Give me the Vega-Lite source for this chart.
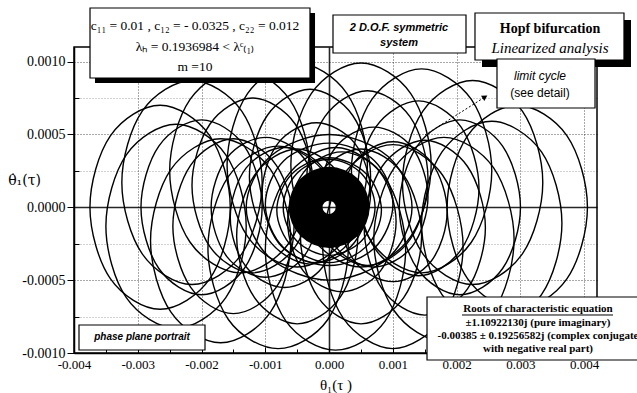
{
"$schema":"https://vega.github.io/schema/vega-lite/v6.json",
"width":523,"height":306,
"autosize":{"type":"none"},
"padding":{"left":74,"top":47,"right":40,"bottom":40},
"background":"white",
"config":{"view":{"stroke":"black","strokeWidth":1.5}},
"datasets":{
"orbits":[
{"g":1,"i":0,"x":-0.00155,"y":0},{"g":1,"i":1,"x":-0.00187,"y":0.00049},{"g":1,"i":2,"x":-0.00265,"y":0.0007},{"g":1,"i":3,"x":-0.00343,"y":0.00049},{"g":1,"i":4,"x":-0.00375,"y":0},{"g":1,"i":5,"x":-0.00343,"y":-0.00049},{"g":1,"i":6,"x":-0.00265,"y":-0.0007},{"g":1,"i":7,"x":-0.00187,"y":-0.00049},
{"g":2,"i":0,"x":-0.00105,"y":0.00017},{"g":2,"i":1,"x":-0.00137,"y":0.00066},{"g":2,"i":2,"x":-0.00215,"y":0.00087},{"g":2,"i":3,"x":-0.00293,"y":0.00066},{"g":2,"i":4,"x":-0.00325,"y":0.00017},{"g":2,"i":5,"x":-0.00293,"y":-0.00032},{"g":2,"i":6,"x":-0.00215,"y":-0.00053},{"g":2,"i":7,"x":-0.00137,"y":-0.00032},
{"g":3,"i":0,"x":-0.0003,"y":0.00025},{"g":3,"i":1,"x":-0.00062,"y":0.00074},{"g":3,"i":2,"x":-0.0014,"y":0.00095},{"g":3,"i":3,"x":-0.00218,"y":0.00074},{"g":3,"i":4,"x":-0.0025,"y":0.00025},{"g":3,"i":5,"x":-0.00218,"y":-0.00024},{"g":3,"i":6,"x":-0.0014,"y":-0.00045},{"g":3,"i":7,"x":-0.00062,"y":-0.00024},
{"g":4,"i":0,"x":0.0006,"y":0.00029},{"g":4,"i":1,"x":0.00028,"y":0.00078},{"g":4,"i":2,"x":-0.0005,"y":0.00099},{"g":4,"i":3,"x":-0.00128,"y":0.00078},{"g":4,"i":4,"x":-0.0016,"y":0.00029},{"g":4,"i":5,"x":-0.00128,"y":-0.0002},{"g":4,"i":6,"x":-0.0005,"y":-0.00041},{"g":4,"i":7,"x":0.00028,"y":-0.0002},
{"g":5,"i":0,"x":0.0016,"y":0.00029},{"g":5,"i":1,"x":0.00128,"y":0.00078},{"g":5,"i":2,"x":0.0005,"y":0.00099},{"g":5,"i":3,"x":-0.00028,"y":0.00078},{"g":5,"i":4,"x":-0.0006,"y":0.00029},{"g":5,"i":5,"x":-0.00028,"y":-0.0002},{"g":5,"i":6,"x":0.0005,"y":-0.00041},{"g":5,"i":7,"x":0.00128,"y":-0.0002},
{"g":6,"i":0,"x":0.00255,"y":0.00025},{"g":6,"i":1,"x":0.00223,"y":0.00074},{"g":6,"i":2,"x":0.00145,"y":0.00095},{"g":6,"i":3,"x":0.00067,"y":0.00074},{"g":6,"i":4,"x":0.00035,"y":0.00025},{"g":6,"i":5,"x":0.00067,"y":-0.00024},{"g":6,"i":6,"x":0.00145,"y":-0.00045},{"g":6,"i":7,"x":0.00223,"y":-0.00024},
{"g":7,"i":0,"x":0.00335,"y":0.00017},{"g":7,"i":1,"x":0.00303,"y":0.00066},{"g":7,"i":2,"x":0.00225,"y":0.00087},{"g":7,"i":3,"x":0.00147,"y":0.00066},{"g":7,"i":4,"x":0.00115,"y":0.00017},{"g":7,"i":5,"x":0.00147,"y":-0.00032},{"g":7,"i":6,"x":0.00225,"y":-0.00053},{"g":7,"i":7,"x":0.00303,"y":-0.00032},
{"g":8,"i":0,"x":0.00405,"y":0},{"g":8,"i":1,"x":0.00373,"y":0.00049},{"g":8,"i":2,"x":0.00295,"y":0.0007},{"g":8,"i":3,"x":0.00217,"y":0.00049},{"g":8,"i":4,"x":0.00185,"y":0},{"g":8,"i":5,"x":0.00217,"y":-0.00049},{"g":8,"i":6,"x":0.00295,"y":-0.0007},{"g":8,"i":7,"x":0.00373,"y":-0.00049},
{"g":9,"i":0,"x":0.00365,"y":-0.00011},{"g":9,"i":1,"x":0.00333,"y":0.00038},{"g":9,"i":2,"x":0.00255,"y":0.00059},{"g":9,"i":3,"x":0.00177,"y":0.00038},{"g":9,"i":4,"x":0.00145,"y":-0.00011},{"g":9,"i":5,"x":0.00177,"y":-0.0006},{"g":9,"i":6,"x":0.00255,"y":-0.00081},{"g":9,"i":7,"x":0.00333,"y":-0.0006},
{"g":10,"i":0,"x":0.0029,"y":-0.00022},{"g":10,"i":1,"x":0.00258,"y":0.00027},{"g":10,"i":2,"x":0.0018,"y":0.00048},{"g":10,"i":3,"x":0.00102,"y":0.00027},{"g":10,"i":4,"x":0.0007,"y":-0.00022},{"g":10,"i":5,"x":0.00102,"y":-0.00071},{"g":10,"i":6,"x":0.0018,"y":-0.00092},{"g":10,"i":7,"x":0.00258,"y":-0.00071},
{"g":11,"i":0,"x":0.0021,"y":-0.00027},{"g":11,"i":1,"x":0.00178,"y":0.00022},{"g":11,"i":2,"x":0.001,"y":0.00043},{"g":11,"i":3,"x":0.00022,"y":0.00022},{"g":11,"i":4,"x":-0.0001,"y":-0.00027},{"g":11,"i":5,"x":0.00022,"y":-0.00076},{"g":11,"i":6,"x":0.001,"y":-0.00097},{"g":11,"i":7,"x":0.00178,"y":-0.00076},
{"g":12,"i":0,"x":0.0012,"y":-0.00029},{"g":12,"i":1,"x":0.00088,"y":0.0002},{"g":12,"i":2,"x":0.0001,"y":0.00041},{"g":12,"i":3,"x":-0.00068,"y":0.0002},{"g":12,"i":4,"x":-0.001,"y":-0.00029},{"g":12,"i":5,"x":-0.00068,"y":-0.00078},{"g":12,"i":6,"x":0.0001,"y":-0.00098},{"g":12,"i":7,"x":0.00088,"y":-0.00078},
{"g":13,"i":0,"x":0.0003,"y":-0.00028},{"g":13,"i":1,"x":-0.00002,"y":0.00021},{"g":13,"i":2,"x":-0.0008,"y":0.00042},{"g":13,"i":3,"x":-0.00158,"y":0.00021},{"g":13,"i":4,"x":-0.0019,"y":-0.00028},{"g":13,"i":5,"x":-0.00158,"y":-0.00077},{"g":13,"i":6,"x":-0.0008,"y":-0.00097},{"g":13,"i":7,"x":-0.00002,"y":-0.00077},
{"g":14,"i":0,"x":-0.0006,"y":-0.00023},{"g":14,"i":1,"x":-0.00092,"y":0.00026},{"g":14,"i":2,"x":-0.0017,"y":0.00047},{"g":14,"i":3,"x":-0.00248,"y":0.00026},{"g":14,"i":4,"x":-0.0028,"y":-0.00023},{"g":14,"i":5,"x":-0.00248,"y":-0.00072},{"g":14,"i":6,"x":-0.0017,"y":-0.00093},{"g":14,"i":7,"x":-0.00092,"y":-0.00072},
{"g":15,"i":0,"x":-0.0013,"y":-0.00013},{"g":15,"i":1,"x":-0.00162,"y":0.00036},{"g":15,"i":2,"x":-0.0024,"y":0.00057},{"g":15,"i":3,"x":-0.00318,"y":0.00036},{"g":15,"i":4,"x":-0.0035,"y":-0.00013},{"g":15,"i":5,"x":-0.00318,"y":-0.00062},{"g":15,"i":6,"x":-0.0024,"y":-0.00083},{"g":15,"i":7,"x":-0.00162,"y":-0.00062},
{"g":16,"i":0,"x":-0.00105,"y":0},{"g":16,"i":1,"x":-0.00133,"y":0.00042},{"g":16,"i":2,"x":-0.002,"y":0.0006},{"g":16,"i":3,"x":-0.00267,"y":0.00042},{"g":16,"i":4,"x":-0.00295,"y":0},{"g":16,"i":5,"x":-0.00267,"y":-0.00042},{"g":16,"i":6,"x":-0.002,"y":-0.0006},{"g":16,"i":7,"x":-0.00133,"y":-0.00042},
{"g":17,"i":0,"x":-0.00025,"y":0.00015},{"g":17,"i":1,"x":-0.00053,"y":0.00057},{"g":17,"i":2,"x":-0.0012,"y":0.00075},{"g":17,"i":3,"x":-0.00187,"y":0.00057},{"g":17,"i":4,"x":-0.00215,"y":0.00015},{"g":17,"i":5,"x":-0.00187,"y":-0.00027},{"g":17,"i":6,"x":-0.0012,"y":-0.00045},{"g":17,"i":7,"x":-0.00053,"y":-0.00027},
{"g":18,"i":0,"x":0.00065,"y":0.00021},{"g":18,"i":1,"x":0.00037,"y":0.00063},{"g":18,"i":2,"x":-0.0003,"y":0.00081},{"g":18,"i":3,"x":-0.00097,"y":0.00063},{"g":18,"i":4,"x":-0.00125,"y":0.00021},{"g":18,"i":5,"x":-0.00097,"y":-0.00021},{"g":18,"i":6,"x":-0.0003,"y":-0.00039},{"g":18,"i":7,"x":0.00037,"y":-0.00021},
{"g":19,"i":0,"x":0.00155,"y":0.0002},{"g":19,"i":1,"x":0.00127,"y":0.00062},{"g":19,"i":2,"x":0.0006,"y":0.0008},{"g":19,"i":3,"x":-0.00007,"y":0.00062},{"g":19,"i":4,"x":-0.00035,"y":0.0002},{"g":19,"i":5,"x":-0.00007,"y":-0.00022},{"g":19,"i":6,"x":0.0006,"y":-0.0004},{"g":19,"i":7,"x":0.00127,"y":-0.00022},
{"g":20,"i":0,"x":0.00235,"y":0.00013},{"g":20,"i":1,"x":0.00207,"y":0.00055},{"g":20,"i":2,"x":0.0014,"y":0.00073},{"g":20,"i":3,"x":0.00073,"y":0.00055},{"g":20,"i":4,"x":0.00045,"y":0.00013},{"g":20,"i":5,"x":0.00073,"y":-0.00029},{"g":20,"i":6,"x":0.0014,"y":-0.00047},{"g":20,"i":7,"x":0.00207,"y":-0.00029},
{"g":21,"i":0,"x":0.003,"y":0},{"g":21,"i":1,"x":0.00272,"y":0.00042},{"g":21,"i":2,"x":0.00205,"y":0.0006},{"g":21,"i":3,"x":0.00138,"y":0.00042},{"g":21,"i":4,"x":0.0011,"y":0},{"g":21,"i":5,"x":0.00138,"y":-0.00042},{"g":21,"i":6,"x":0.00205,"y":-0.0006},{"g":21,"i":7,"x":0.00272,"y":-0.00042},
{"g":22,"i":0,"x":0.00245,"y":-0.00014},{"g":22,"i":1,"x":0.00217,"y":0.00028},{"g":22,"i":2,"x":0.0015,"y":0.00046},{"g":22,"i":3,"x":0.00083,"y":0.00028},{"g":22,"i":4,"x":0.00055,"y":-0.00014},{"g":22,"i":5,"x":0.00083,"y":-0.00056},{"g":22,"i":6,"x":0.0015,"y":-0.00074},{"g":22,"i":7,"x":0.00217,"y":-0.00056},
{"g":23,"i":0,"x":0.00145,"y":-0.0002},{"g":23,"i":1,"x":0.00117,"y":0.00022},{"g":23,"i":2,"x":0.0005,"y":0.0004},{"g":23,"i":3,"x":-0.00017,"y":0.00022},{"g":23,"i":4,"x":-0.00045,"y":-0.0002},{"g":23,"i":5,"x":-0.00017,"y":-0.00062},{"g":23,"i":6,"x":0.0005,"y":-0.0008},{"g":23,"i":7,"x":0.00117,"y":-0.00062},
{"g":24,"i":0,"x":0.00045,"y":-0.0002},{"g":24,"i":1,"x":0.00017,"y":0.00022},{"g":24,"i":2,"x":-0.0005,"y":0.0004},{"g":24,"i":3,"x":-0.00117,"y":0.00022},{"g":24,"i":4,"x":-0.00145,"y":-0.0002},{"g":24,"i":5,"x":-0.00117,"y":-0.00062},{"g":24,"i":6,"x":-0.0005,"y":-0.0008},{"g":24,"i":7,"x":0.00017,"y":-0.00062},
{"g":25,"i":0,"x":-0.00055,"y":-0.00013},{"g":25,"i":1,"x":-0.00083,"y":0.00029},{"g":25,"i":2,"x":-0.0015,"y":0.00047},{"g":25,"i":3,"x":-0.00217,"y":0.00029},{"g":25,"i":4,"x":-0.00245,"y":-0.00013},{"g":25,"i":5,"x":-0.00217,"y":-0.00055},{"g":25,"i":6,"x":-0.0015,"y":-0.00073},{"g":25,"i":7,"x":-0.00083,"y":-0.00055},
{"g":26,"i":0,"x":-0.00015,"y":0},{"g":26,"i":1,"x":-0.0004,"y":0.00034},{"g":26,"i":2,"x":-0.001,"y":0.00048},{"g":26,"i":3,"x":-0.0016,"y":0.00034},{"g":26,"i":4,"x":-0.00185,"y":0},{"g":26,"i":5,"x":-0.0016,"y":-0.00034},{"g":26,"i":6,"x":-0.001,"y":-0.00048},{"g":26,"i":7,"x":-0.0004,"y":-0.00034},
{"g":27,"i":0,"x":0.00065,"y":0.0001},{"g":27,"i":1,"x":0.0004,"y":0.00044},{"g":27,"i":2,"x":-0.0002,"y":0.00058},{"g":27,"i":3,"x":-0.0008,"y":0.00044},{"g":27,"i":4,"x":-0.00105,"y":0.0001},{"g":27,"i":5,"x":-0.0008,"y":-0.00024},{"g":27,"i":6,"x":-0.0002,"y":-0.00038},{"g":27,"i":7,"x":0.0004,"y":-0.00024},
{"g":28,"i":0,"x":0.00155,"y":0.00007},{"g":28,"i":1,"x":0.0013,"y":0.00041},{"g":28,"i":2,"x":0.0007,"y":0.00055},{"g":28,"i":3,"x":0.0001,"y":0.00041},{"g":28,"i":4,"x":-0.00015,"y":0.00007},{"g":28,"i":5,"x":0.0001,"y":-0.00027},{"g":28,"i":6,"x":0.0007,"y":-0.00041},{"g":28,"i":7,"x":0.0013,"y":-0.00027},
{"g":29,"i":0,"x":0.00185,"y":-0.00003},{"g":29,"i":1,"x":0.0016,"y":0.00031},{"g":29,"i":2,"x":0.001,"y":0.00045},{"g":29,"i":3,"x":0.0004,"y":0.00031},{"g":29,"i":4,"x":0.00015,"y":-0.00003},{"g":29,"i":5,"x":0.0004,"y":-0.00037},{"g":29,"i":6,"x":0.001,"y":-0.00051},{"g":29,"i":7,"x":0.0016,"y":-0.00037},
{"g":30,"i":0,"x":0.00105,"y":-0.0001},{"g":30,"i":1,"x":0.0008,"y":0.00024},{"g":30,"i":2,"x":0.0002,"y":0.00038},{"g":30,"i":3,"x":-0.0004,"y":0.00024},{"g":30,"i":4,"x":-0.00065,"y":-0.0001},{"g":30,"i":5,"x":-0.0004,"y":-0.00044},{"g":30,"i":6,"x":0.0002,"y":-0.00058},{"g":30,"i":7,"x":0.0008,"y":-0.00044},
{"g":31,"i":0,"x":0.00015,"y":-0.00007},{"g":31,"i":1,"x":-0.0001,"y":0.00027},{"g":31,"i":2,"x":-0.0007,"y":0.00041},{"g":31,"i":3,"x":-0.0013,"y":0.00027},{"g":31,"i":4,"x":-0.00155,"y":-0.00007},{"g":31,"i":5,"x":-0.0013,"y":-0.00041},{"g":31,"i":6,"x":-0.0007,"y":-0.00055},{"g":31,"i":7,"x":-0.0001,"y":-0.00041},
{"g":32,"i":0,"x":0.0013,"y":0},{"g":32,"i":1,"x":0.00092,"y":0.00035},{"g":32,"i":2,"x":0,"y":0.0005},{"g":32,"i":3,"x":-0.00092,"y":0.00035},{"g":32,"i":4,"x":-0.0013,"y":0},{"g":32,"i":5,"x":-0.00092,"y":-0.00035},{"g":32,"i":6,"x":0,"y":-0.0005},{"g":32,"i":7,"x":0.00092,"y":-0.00035},
{"g":33,"i":0,"x":0.001,"y":0.00002},{"g":33,"i":1,"x":0.00071,"y":0.00032},{"g":33,"i":2,"x":0,"y":0.00044},{"g":33,"i":3,"x":-0.00071,"y":0.00032},{"g":33,"i":4,"x":-0.001,"y":0.00002},{"g":33,"i":5,"x":-0.00071,"y":-0.00028},{"g":33,"i":6,"x":0,"y":-0.0004},{"g":33,"i":7,"x":0.00071,"y":-0.00028},
{"g":34,"i":0,"x":0.00082,"y":-0.00002},{"g":34,"i":1,"x":0.00058,"y":0.00023},{"g":34,"i":2,"x":0,"y":0.00034},{"g":34,"i":3,"x":-0.00058,"y":0.00023},{"g":34,"i":4,"x":-0.00082,"y":-0.00002},{"g":34,"i":5,"x":-0.00058,"y":-0.00027},{"g":34,"i":6,"x":0,"y":-0.00038},{"g":34,"i":7,"x":0.00058,"y":-0.00027},
{"g":35,"i":0,"x":0.00072,"y":0},{"g":35,"i":1,"x":0.00051,"y":0.00023},{"g":35,"i":2,"x":0,"y":0.00033},{"g":35,"i":3,"x":-0.00051,"y":0.00023},{"g":35,"i":4,"x":-0.00072,"y":0},{"g":35,"i":5,"x":-0.00051,"y":-0.00023},{"g":35,"i":6,"x":0,"y":-0.00033},{"g":35,"i":7,"x":0.00051,"y":-0.00023}
],
"core":[
{"i":0,"x":0.00037,"y":0},{"i":1,"x":0.00026,"y":0.000115},{"i":2,"x":0,"y":0.000162},{"i":3,"x":-0.00026,"y":0.000115},{"i":4,"x":-0.00037,"y":0},{"i":5,"x":-0.00026,"y":-0.000115},{"i":6,"x":0,"y":-0.000162},{"i":7,"x":0.00026,"y":-0.000115}
],
"shadows":[
{"x":-0.003671,"x2":-0.000221,"y":0.0013333,"y2":0.000853},
{"x":0.002397,"x2":0.004733,"y":0.0012853,"y2":0.0009627}
],
"boxes":[
{"x":-0.003749,"x2":-0.0003,"y":0.0013676,"y2":0.0008873},
{"x":0.0000608,"x2":0.002146,"y":0.0013196,"y2":0.0010588},
{"x":0.002287,"x2":0.004623,"y":0.0013333,"y2":0.0010108},
{"x":0.002632,"x2":0.004169,"y":0.0010176,"y2":0.0006814},
{"x":0.0015347,"x2":0.004953,"y":-0.0006157,"y2":-0.001048},
{"x":-0.0039216,"x2":-0.0019461,"y":-0.0008078,"y2":-0.0009794}
]
},
"encoding":{
"x":{"field":"x","type":"quantitative","scale":{"domain":[-0.004,0.0042],"nice":false,"zero":false},
 "axis":{"title":"θ₁(τ )","values":[-0.004,-0.0035,-0.003,-0.0025,-0.002,-0.0015,-0.001,-0.0005,0,0.0005,0.001,0.0015,0.002,0.0025,0.003,0.0035,0.004],
  "labelExpr":"abs(datum.value*1000-round(datum.value*1000))<0.01 ? replace(format(datum.value,'.3f'),'\u2212','-') : ''",
  "labelFont":"Liberation Serif","labelFontSize":13,"labelColor":"black","labelPadding":11,"labelOverlap":false,"labelFlush":false,"labelBound":false,
  "domainColor":"black","domainWidth":1.5,"tickColor":"black","tickWidth":1,
  "tickSize":{"condition":{"test":"abs(datum.value*1000-round(datum.value*1000))<0.01","value":-6},"value":-4},
  "grid":true,"gridColor":"black",
  "gridOpacity":{"condition":{"test":"abs(datum.value*1000-round(datum.value*1000))<0.01","value":0.85},"value":0},
  "gridDash":{"condition":{"test":"abs(datum.value)<1e-9","value":[]},"value":[1,2]},
  "gridWidth":{"condition":{"test":"abs(datum.value)<1e-9","value":1.6},"value":0.8},
  "titleFont":"Liberation Serif","titleFontSize":15,"titleFontWeight":"normal","titleColor":"black","titleY":31,"titleBaseline":"middle"}},
"y":{"field":"y","type":"quantitative","scale":{"domain":[-0.001,0.0011],"nice":false,"zero":false},
 "axis":{"title":"θ̇₁(τ)","values":[-0.001,-0.00075,-0.0005,-0.00025,0,0.00025,0.0005,0.00075,0.001],
  "labelExpr":"abs(datum.value*2000-round(datum.value*2000))<0.01 ? replace(format(datum.value,'.4f'),'\u2212','-') : ''",
  "labelFont":"Liberation Serif","labelFontSize":14,"labelColor":"black","labelPadding":2,"labelOverlap":false,"labelFlush":false,"labelBound":false,
  "domainColor":"black","domainWidth":1.5,"tickColor":"black","tickWidth":1,
  "tickSize":{"condition":{"test":"abs(datum.value*2000-round(datum.value*2000))<0.01","value":7},"value":-5},
  "grid":true,"gridColor":"black",
  "gridOpacity":{"condition":{"test":"abs(datum.value*2000-round(datum.value*2000))<0.01","value":0.85},"value":0.45},
  "gridDash":{"condition":{"test":"abs(datum.value)<1e-9","value":[]},"value":[1,2]},
  "gridWidth":{"condition":{"test":"abs(datum.value)<1e-9","value":1.6},"value":0.8},
  "titleFont":"DejaVu Serif","titleFontSize":14,"titleFontWeight":"normal","titleColor":"black","titleAngle":0,"titleX":-50,"titleY":133,"titleAlign":"center","titleBaseline":"middle"}}
},
"layer":[
{"data":{"name":"orbits"},"mark":{"type":"line","interpolate":"cardinal-closed","color":"black","strokeWidth":1.4},"encoding":{"detail":{"field":"g"},"order":{"field":"i","type":"quantitative"}}},
{"data":{"name":"core"},"mark":{"type":"line","interpolate":"cardinal-closed","color":"black","strokeWidth":34},"encoding":{"order":{"field":"i","type":"quantitative"}}},
{"data":{"name":"shadows"},"mark":{"type":"rect","color":"black"},"encoding":{"x2":{"field":"x2"},"y2":{"field":"y2"}}},
{"data":{"name":"boxes"},"mark":{"type":"rect","fill":"white","stroke":"black","strokeWidth":1.2},"encoding":{"x2":{"field":"x2"},"y2":{"field":"y2"}}},
{"data":{"values":[{"x":0.002083,"x2":0.004451,"y":-0.0007392}]},"mark":{"type":"rule","color":"black","strokeWidth":1},"encoding":{"x2":{"field":"x2"}}},
{"data":{"values":[{"x":0.0015033,"y":0.000496,"x2":0.002444,"y2":0.000757}]},"mark":{"type":"rule","color":"black","strokeWidth":1,"strokeDash":[2,2]},"encoding":{"x2":{"field":"x2"},"y2":{"field":"y2"}}},
{"data":{"values":[{"x":0.002444,"y":0.000757}]},"mark":{"type":"point","shape":"triangle-up","filled":true,"color":"black","size":40,"angle":58,"opacity":1},"encoding":{}},
{"data":{"values":[{"x":-0.002103,"y":0.0012441,"t":"c₁₁ = 0.01 , c₁₂ = - 0.0325 , c₂₂ = 0.012"},{"x":-0.002103,"y":0.0011,"t":"λₕ = 0.1936984 < λᶜ₍₁₎"},{"x":-0.002103,"y":0.000963,"t":"m =10"}]},"mark":{"type":"text","font":"Liberation Serif","fontSize":13.5,"align":"center","baseline":"middle","color":"black"},"encoding":{"text":{"field":"t"}}},
{"data":{"values":[{"x":0.001096,"y":0.0012304,"t":"2 D.O.F. symmetric"},{"x":0.001096,"y":0.0011275,"t":"system"}]},"mark":{"type":"text","font":"Liberation Sans","fontSize":11,"fontWeight":"bold","fontStyle":"italic","align":"center","baseline":"middle","color":"black"},"encoding":{"text":{"field":"t"}}},
{"data":{"values":[{"x":0.003463,"y":0.0012235,"t":"Hopf bifurcation"}]},"mark":{"type":"text","font":"Liberation Serif","fontSize":14,"fontWeight":"bold","align":"center","baseline":"middle","color":"black"},"encoding":{"text":{"field":"t"}}},
{"data":{"values":[{"x":0.003463,"y":0.0010931,"t":"Linearized analysis"}]},"mark":{"type":"text","font":"Liberation Serif","fontSize":15,"fontStyle":"italic","align":"center","baseline":"middle","color":"black"},"encoding":{"text":{"field":"t"}}},
{"data":{"values":[{"x":0.003306,"y":0.000901,"t":"limit cycle"}]},"mark":{"type":"text","font":"Liberation Sans","fontSize":12,"fontStyle":"italic","align":"center","baseline":"middle","color":"black"},"encoding":{"text":{"field":"t"}}},
{"data":{"values":[{"x":0.003306,"y":0.0007843,"t":"(see detail)"}]},"mark":{"type":"text","font":"Liberation Sans","fontSize":12,"align":"center","baseline":"middle","color":"black"},"encoding":{"text":{"field":"t"}}},
{"data":{"values":[{"x":0.003275,"y":-0.000698,"t":"Roots of characteristic equation"},{"x":0.003275,"y":-0.0007941,"t":"±1.10922130j (pure imaginary)"},{"x":0.003275,"y":-0.0008833,"t":"-0.00385 ± 0.19256582j (complex conjugate"},{"x":0.003275,"y":-0.0009725,"t":"with negative real part)"}]},"mark":{"type":"text","font":"Liberation Serif","fontSize":11,"fontWeight":"bold","align":"center","baseline":"middle","color":"black"},"encoding":{"text":{"field":"t"}}},
{"data":{"values":[{"x":-0.0029338,"y":-0.00089,"t":"phase plane portrait"}]},"mark":{"type":"text","font":"Liberation Sans","fontSize":10,"fontWeight":"bold","fontStyle":"italic","align":"center","baseline":"middle","color":"black"},"encoding":{"text":{"field":"t"}}}
]
}
